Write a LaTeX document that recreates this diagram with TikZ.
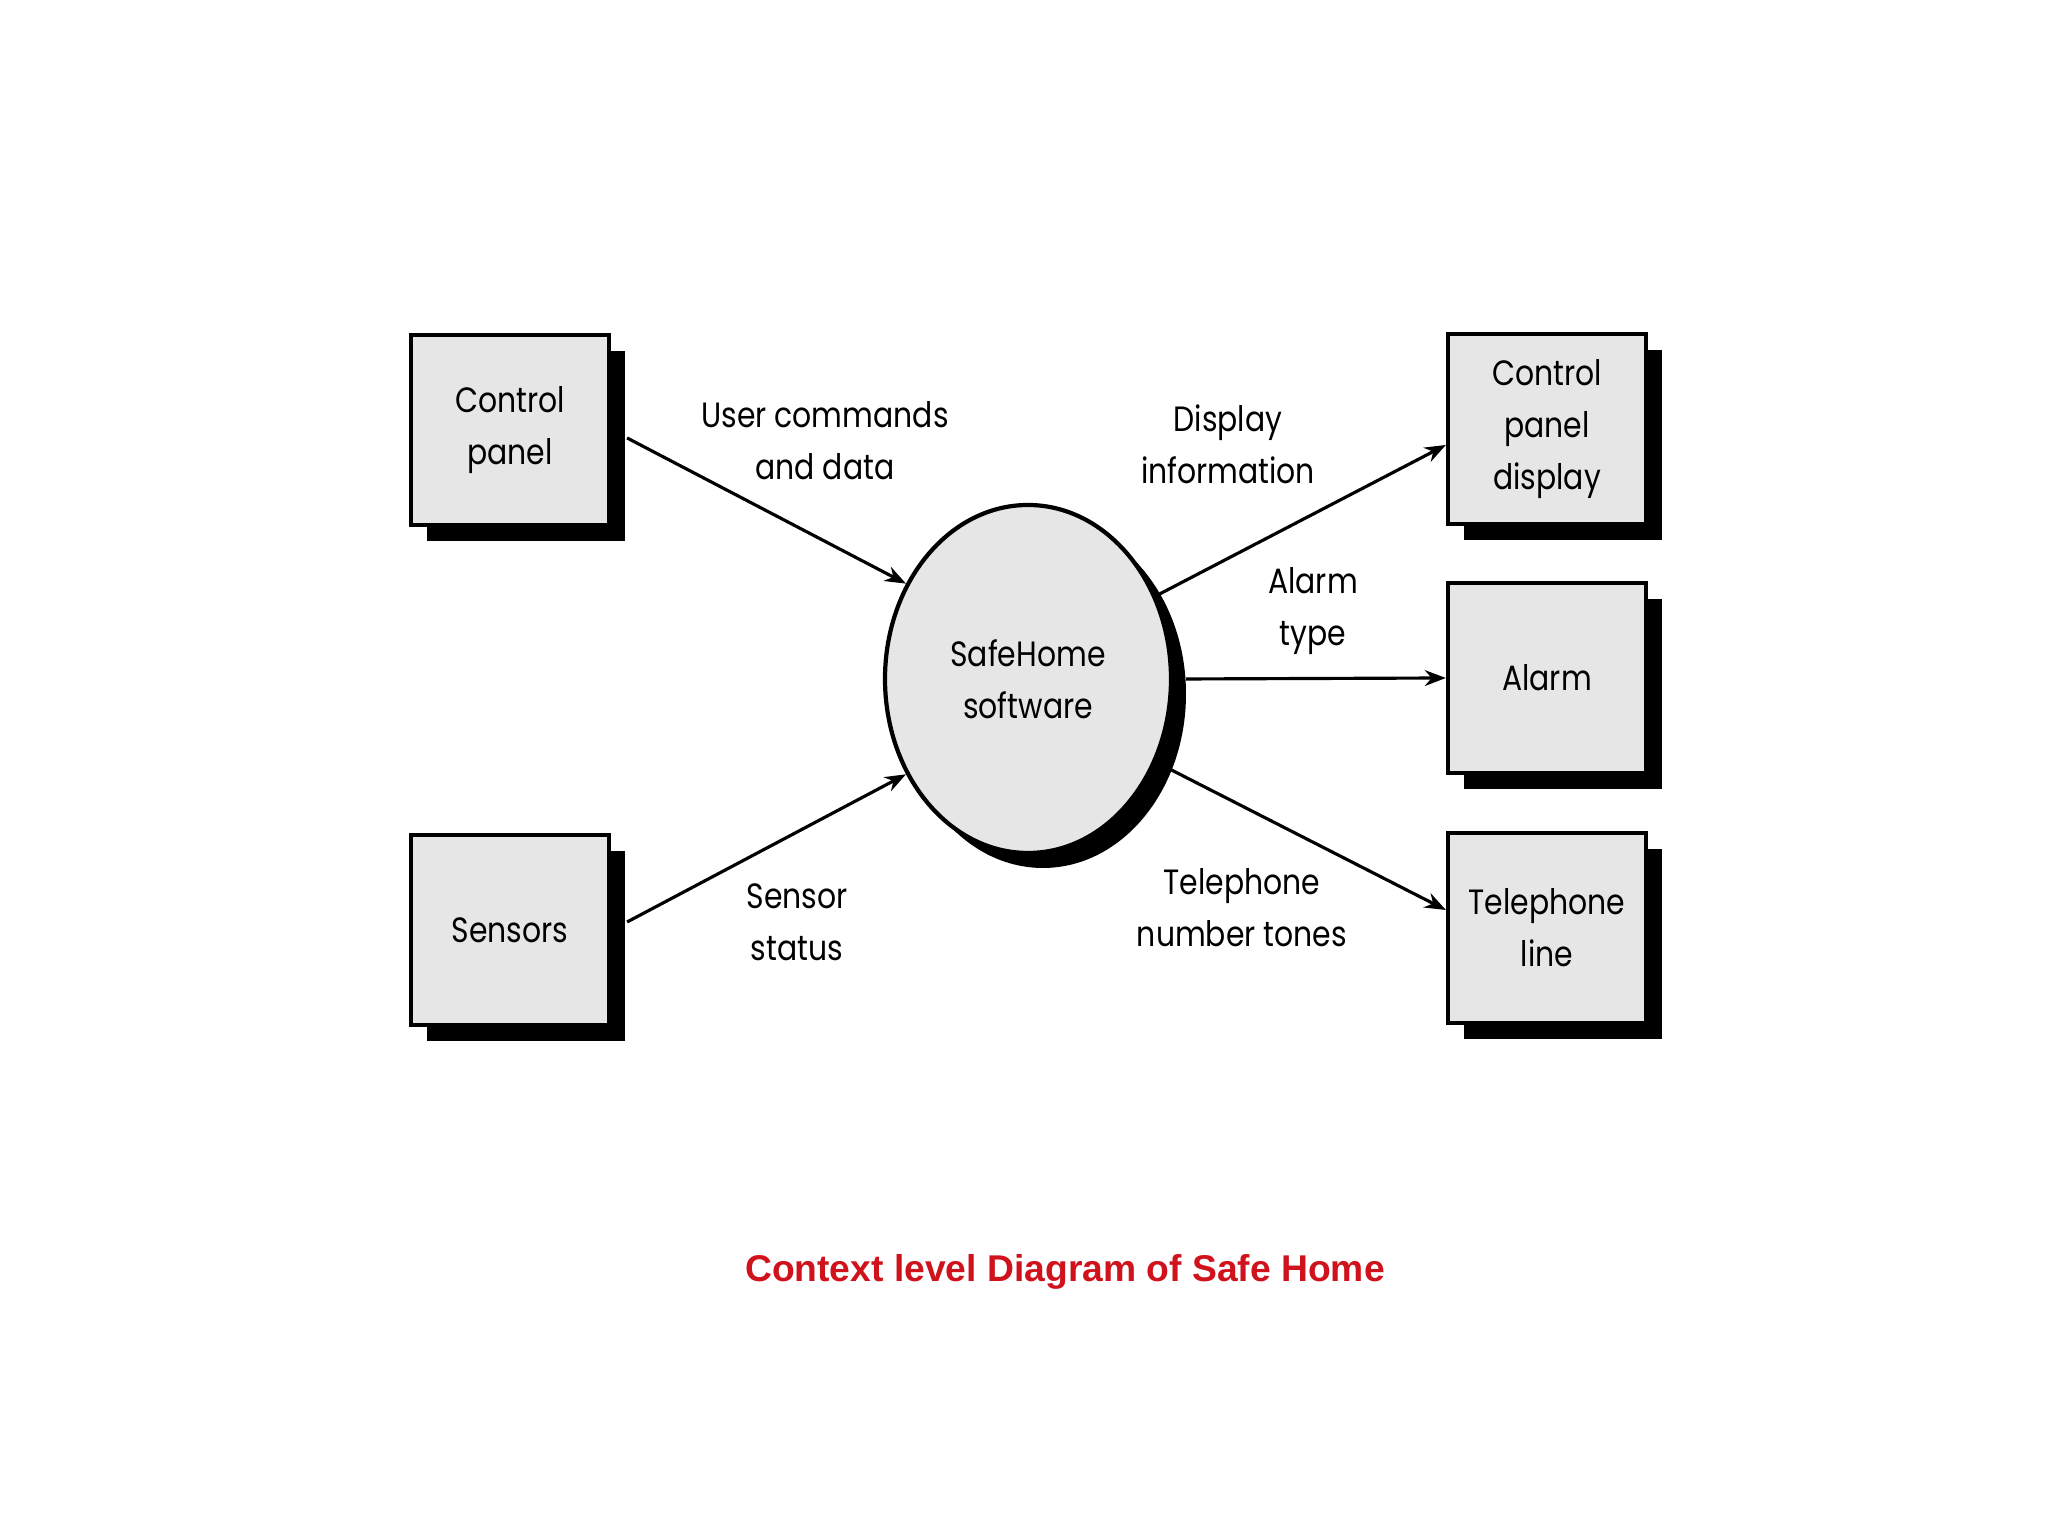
\documentclass[tikz,border=0pt]{standalone}
\usepackage{fontspec}
\usepackage{tikz}
\usetikzlibrary{arrows.meta, positioning, calc, shapes.geometric, shadows}
\usepackage{xcolor}
\newfontfamily\labelfont{Poppins}[FakeStretch=0.85]
\newfontfamily\captionfont{Liberation Sans}
\definecolor{boxgray}{HTML}{E6E6E6}
\definecolor{captionred}{HTML}{D0121C}

\begin{document}
\begin{tikzpicture}[
    entity/.style={draw=black, line width=1.2pt, fill=boxgray, minimum width=1.98cm,
                   minimum height=1.9cm, align=center, inner sep=2pt,
                   font=\labelfont\fontsize{10}{14.8}\selectfont,
                   drop shadow={shadow xshift=0.16cm, shadow yshift=-0.16cm,
                                opacity=1, fill=black}},
    process/.style={ellipse, draw=black, line width=1.2pt, fill=boxgray,
                    minimum width=2.86cm, minimum height=3.48cm, align=center,
                    font=\labelfont\fontsize{10}{14.8}\selectfont,
                    drop shadow={shadow xshift=0.15cm, shadow yshift=-0.15cm,
                                 opacity=1, fill=black}},
    flow/.style={align=center, font=\labelfont\fontsize{10}{14.8}\selectfont},
    arr/.style={-{Stealth[length=6pt, width=4.5pt]}, line width=0.9pt, black}
  ]
    \useasboundingbox[fill=white] (0,0) rectangle (20.48,15.36);

    \node[process] (sw) at (10.28, 8.57) {SafeHome\\software};
    \node[entity] (cp) at (5.10, 11.06) {Control\\panel};
    \node[entity] (sn) at (5.10, 6.06) {Sensors};
    \node[entity] (cpd) at (15.47, 11.07) {Control\\panel\\display};
    \node[entity] (al) at (15.47, 8.58) {Alarm};
    \node[entity] (tl) at (15.47, 6.08) {Telephone\\line};

    \draw[arr] ([xshift=0.16cm, yshift=-0.08cm]cp.east) -- (sw.142);
    \draw[arr] ([xshift=0.16cm, yshift=0.08cm]sn.east) -- (sw.218);
    \draw[arr] (sw.33) -- ([yshift=-0.16cm]cpd.west);
    \draw[arr] ([xshift=0.13cm]sw.east) -- (al.west);
    \draw[arr] (sw.-33) -- ([yshift=0.18cm]tl.west);

    \node[flow] (ucd) at (8.25, 10.95) {User commands\\and data};
    \node[flow] (ss) at (7.97, 6.14) {Sensor\\status};
    \node[flow] (di) at (12.28, 10.92) {Display\\information};
    \node[flow] (at) at (13.13, 9.25) {Alarm\\type};
    \node[flow] (tnt) at (12.42, 6.28) {Telephone\\number tones};

    \node[font=\captionfont\bfseries\fontsize{10.6}{13}\selectfont, text=captionred]
      (title) at (10.65, 2.64) {Context level Diagram of Safe Home};
  \end{tikzpicture}
\end{document}
